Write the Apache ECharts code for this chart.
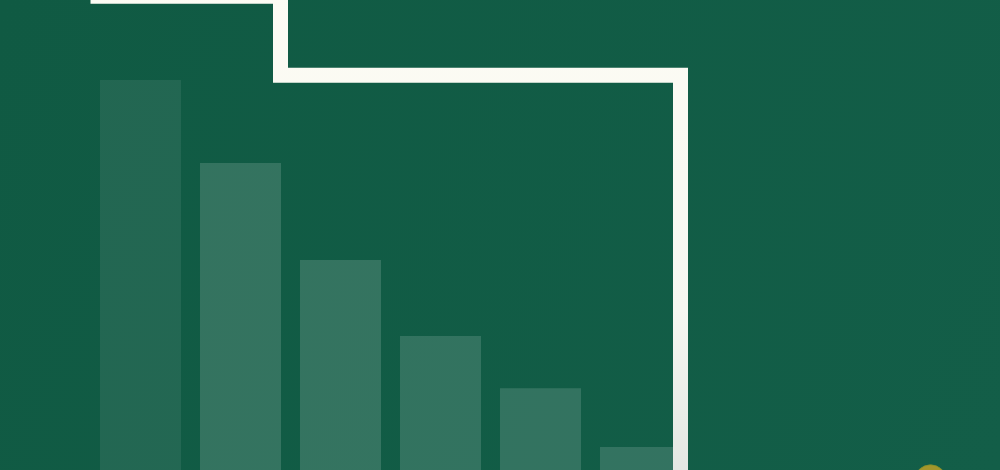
<!DOCTYPE html>
<html>
<head>
<meta charset="utf-8">
<script src="https://cdn.jsdelivr.net/npm/echarts@6/dist/echarts.min.js"></script>
<style>html,body{margin:0;padding:0;background:#115b45;}#c{width:1000px;height:470px;}</style>
</head>
<body>
<div id="c"></div>
<script>
// Data
const barX = [1, 2, 3, 4, 5, 6];
const barValues = [83, 65.3, 44.7, 28.5, 17.4, 4.9];
const barOpacity = [0.08, 0.15, 0.15, 0.14, 0.14, 0.14];
const stepX = [0.5, 2.4, 2.4, 6.4, 6.4];
const stepY = [100.8, 100.8, 84, 84, -10];
const coinPoint = [[8.9, -2.3]];

const chart = echarts.init(document.getElementById('c'), null, {renderer: 'canvas'});
chart.setOption({
  animation: false,
  backgroundColor: {
    type: 'linear', x: 0, y: 0, x2: 1, y2: 1,
    colorStops: [{offset: 0, color: '#105a43'}, {offset: 1, color: '#135e48'}]
  },
  grid: {left: 40.5, right: 0, top: 0, bottom: 0},
  xAxis: {type: 'value', min: 0, max: 9.595, show: false},
  yAxis: {type: 'value', min: 0, max: 100, show: false},
  series: [
    {
      type: 'bar',
      barWidth: 81,
      data: barX.map((x, i) => ({
        value: [x, barValues[i]],
        itemStyle: {color: 'rgba(255,255,255,' + barOpacity[i] + ')'}
      })),
      z: 1
    },
    {
      type: 'line',
      clip: false,
      symbol: 'none',
      data: stepX.map((x, i) => [x, stepY[i]]),
      lineStyle: {
        width: 15,
        join: 'miter',
        cap: 'butt',
        color: {
          type: 'linear', x: 0, y: 0, x2: 0, y2: 1,
          colorStops: [{offset: 0, color: '#fdfcf4'}, {offset: 0.6, color: '#f6f7f1'}, {offset: 1, color: '#dde2de'}]
        }
      },
      z: 3
    },
    {
      type: 'scatter',
      clip: false,
      symbolSize: 32,
      data: coinPoint,
      itemStyle: {color: '#c9a424', borderColor: '#7f8f2a', borderWidth: 1},
      z: 2
    }
  ]
});
</script>
</body>
</html>
